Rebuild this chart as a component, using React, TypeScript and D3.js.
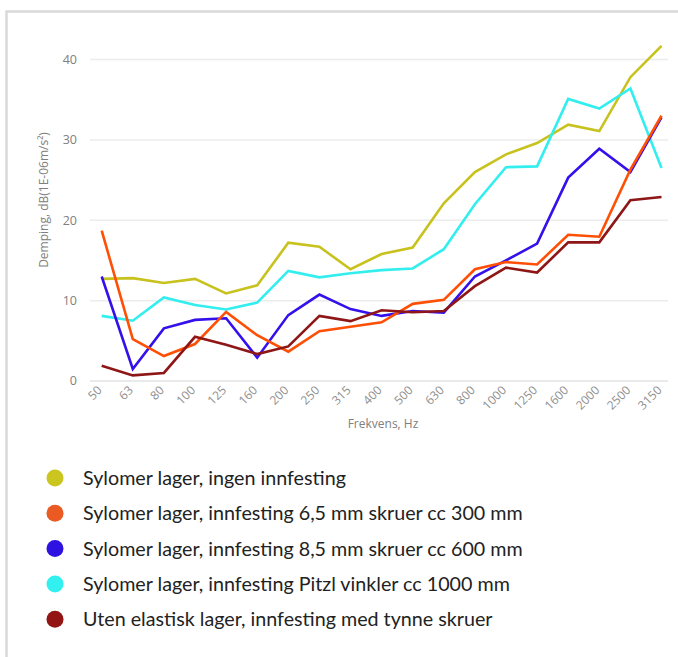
import React from "react";
import { scalePoint, scaleLinear, line } from "d3";

// Frequency bands (Hz)
const freqs = ["50", "63", "80", "100", "125", "160", "200", "250", "315", "400", "500", "630", "800", "1000", "1250", "1600", "2000", "2500", "3150"];

// Damping values dB per series
const ingen = [12.7, 12.8, 12.2, 12.7, 10.9, 11.9, 17.2, 16.7, 13.9, 15.8, 16.6, 22.1, 26.0, 28.2, 29.6, 31.9, 31.1, 37.8, 41.7];
const skruer65 = [18.7, 5.2, 3.1, 4.6, 8.6, 5.7, 3.65, 6.2, 6.75, 7.3, 9.6, 10.1, 13.9, 14.8, 14.5, 18.2, 17.95, 26.3, 33.0];
const skruer85 = [13.0, 1.5, 6.55, 7.6, 7.8, 2.9, 8.2, 10.75, 8.95, 8.1, 8.7, 8.5, 13.0, 15.0, 17.1, 25.3, 28.9, 26.0, 32.8];
const pitzl = [8.1, 7.5, 10.4, 9.45, 8.9, 9.75, 13.7, 12.9, 13.4, 13.8, 14.0, 16.4, 22.0, 26.6, 26.7, 35.1, 33.9, 36.4, 26.5];
const uten = [1.9, 0.7, 1.0, 5.5, 4.5, 3.35, 4.3, 8.1, 7.45, 8.8, 8.55, 8.7, 11.8, 14.1, 13.5, 17.25, 17.25, 22.5, 22.9];

const yTicks = [0, 10, 20, 30, 40];

const series = [
  { name: "Sylomer lager, ingen innfesting", values: ingen, color: "#c8c21e", legend: "#cbc51f" },
  { name: "Sylomer lager, innfesting 6,5 mm skruer cc 300 mm", values: skruer65, color: "#ff4f05", legend: "#eb5a22" },
  { name: "Sylomer lager, innfesting 8,5 mm skruer cc 600 mm", values: skruer85, color: "#3410ec", legend: "#2e12e2" },
  { name: "Sylomer lager, innfesting Pitzl vinkler cc 1000 mm", values: pitzl, color: "#33eeee", legend: "#33f0f0" },
  { name: "Uten elastisk lager, innfesting med tynne skruer", values: uten, color: "#8e1616", legend: "#931414" },
];

const drawOrder = [0, 3, 2, 1, 4];

export default function App() {
  const W = 678;
  const H = 657;
  const gridLeft = 90;
  const gridRight = 668;

  const x = scalePoint<string>().domain(freqs).range([101.7, 661.5]);
  const y = scaleLinear().domain([0, 40]).range([381, 59.5]);

  const axisFont = "'Open Sans', 'Noto Sans', sans-serif";

  return (
    <svg
      width={W}
      height={H}
      style={{ position: "absolute", left: 0, top: 0, background: "#fff" }}
    >
      {/* frame */}
      <path d={`M6.5,${H} L6.5,11.5 L${W},11.5`} fill="none" stroke="#d9d9d9" strokeWidth={2.5} />

      {/* grid */}
      {yTicks.map((t) => (
        <line
          key={t}
          x1={gridLeft}
          x2={gridRight}
          y1={y(t)}
          y2={y(t)}
          stroke={t === 0 ? "#e3e3e3" : "#ececec"}
          strokeWidth={1.5}
        />
      ))}

      {/* y tick labels */}
      {yTicks.map((t) => (
        <text
          key={t}
          x={77}
          y={y(t)}
          dy="0.35em"
          textAnchor="end"
          fontFamily={axisFont}
          fontSize={12.5}
          fill="#808080"
        >
          {t}
        </text>
      ))}

      <text
        transform={`translate(48,${200}) rotate(-90)`}
        textAnchor="middle"
        fontFamily={axisFont}
        fontSize={12}
        fill="#808080"
      >
        Demping, dB(1E-06m/s²)
      </text>

      {/* x tick labels */}
      {freqs.map((f) => (
        <text
          key={f}
          transform={`translate(${x(f)! + 1},${391}) rotate(-45)`}
          textAnchor="end"
          fontFamily={axisFont}
          fontSize={12}
          fill="#8f8f8f"
        >
          {f}
        </text>
      ))}

      <text
        x={383}
        y={428}
        textAnchor="middle"
        fontFamily={axisFont}
        fontSize={12}
        fill="#808080"
      >
        Frekvens, Hz
      </text>

      {/* lines */}
      {drawOrder.map((i) => {
        const s = series[i];
        const gen = line<number>()
          .x((_, j) => x(freqs[j])!)
          .y((v) => y(v));
        return (
          <path
            key={s.name}
            d={gen(s.values) ?? ""}
            fill="none"
            stroke={s.color}
            strokeWidth={2.6}
            strokeLinejoin="miter"
          />
        );
      })}

      {/* legend */}
      {series.map((s, i) => (
        <g key={s.name} transform={`translate(0,${478 + i * 35.3})`}>
          <circle cx={55} cy={0} r={8.5} fill={s.legend} />
          <text
            x={83}
            y={0}
            dy="0.35em"
            fontFamily="Lato, 'Open Sans', sans-serif"
            fontSize={19.7}
            fill="#222"
          >
            {s.name}
          </text>
        </g>
      ))}
    </svg>
  );
}
